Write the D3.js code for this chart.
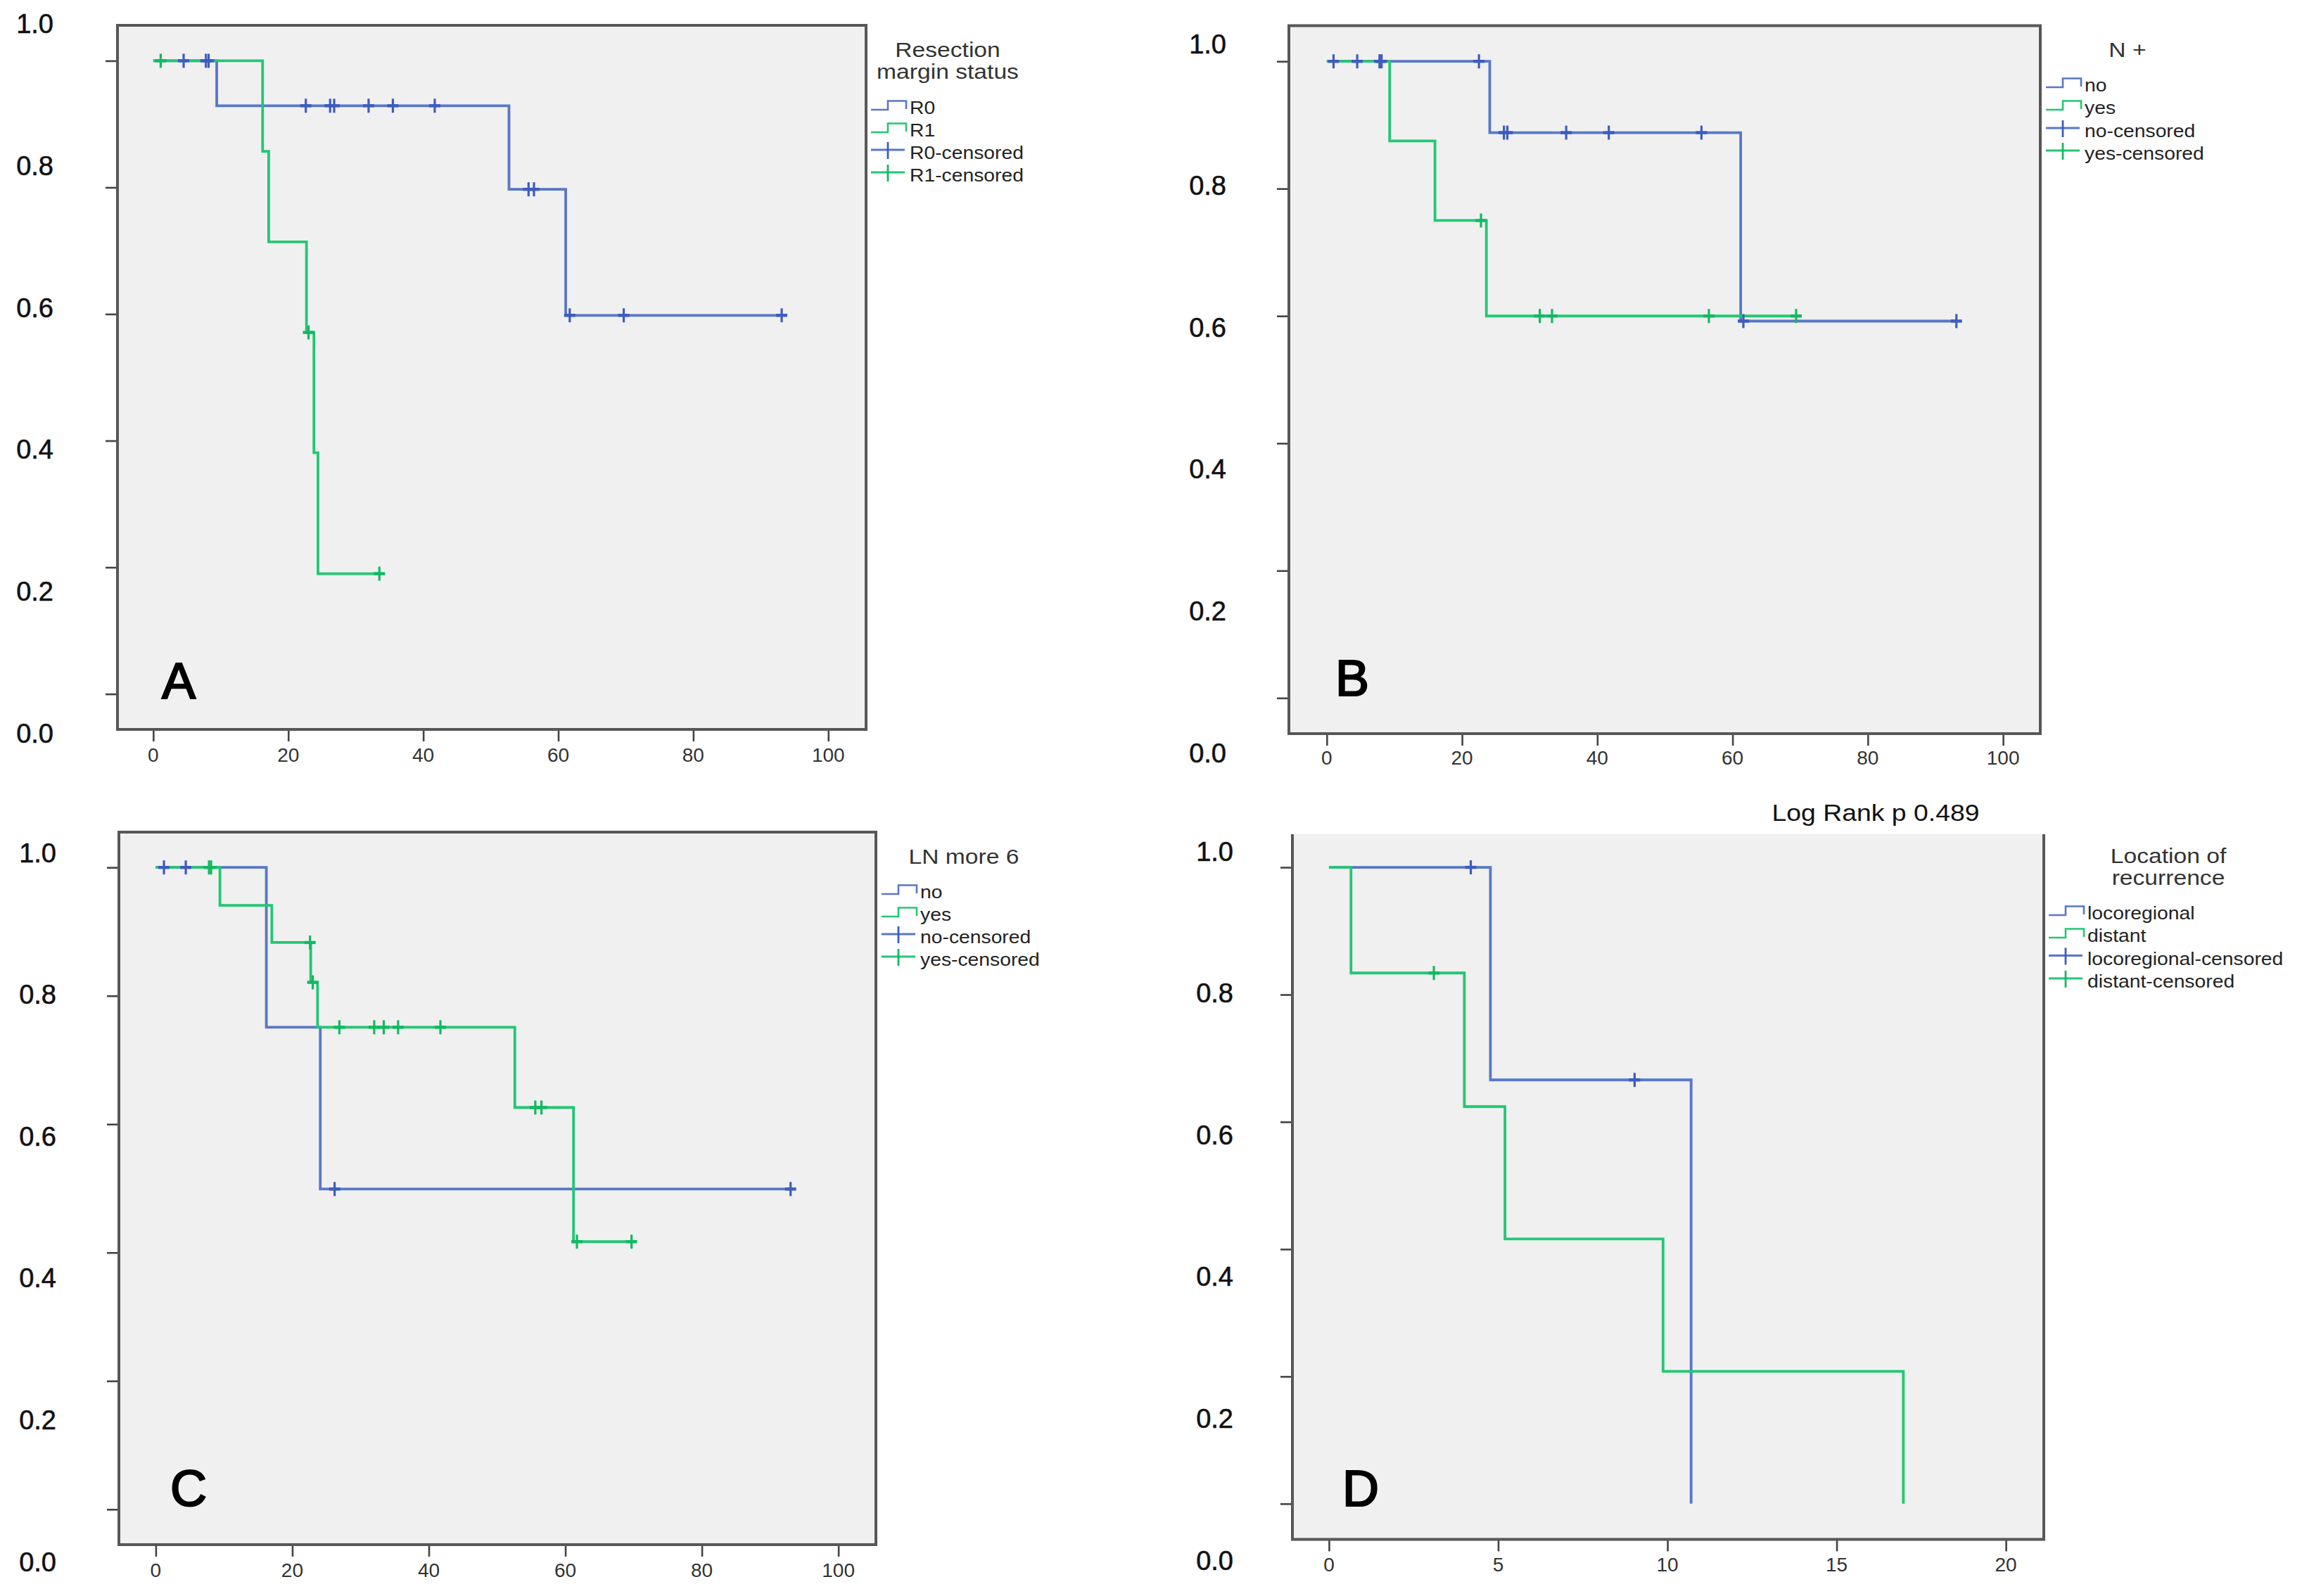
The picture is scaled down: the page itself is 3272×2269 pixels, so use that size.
<!DOCTYPE html>
<html><head><meta charset="utf-8">
<script src="https://cdn.jsdelivr.net/npm/d3@7/dist/d3.min.js"></script>
<style>body{margin:0;background:#fff}</style>
</head><body>
<svg id="c" width="3272" height="2269" xmlns="http://www.w3.org/2000/svg"></svg>
<script>
// ================= DATA =================
const yTickValues = [0, 0.2, 0.4, 0.6, 0.8, 1.0];
const yTickLabels = ["0.0", "0.2", "0.4", "0.6", "0.8", "1.0"];
const xTicksMonths = [0, 20, 40, 60, 80, 100];
const xTicksD = [0, 5, 10, 15, 20];

// Panel A – Resection margin status
const A_R0_t = [0, 9.4, 52.7, 61.1];
const A_R0_s = [1.0, 0.929, 0.797, 0.598];
const A_R0_end = 93.1;
const A_R0_cens = [4.5, 7.8, 8.2, 22.6, 26.2, 26.8, 31.9, 35.5, 41.7, 55.6, 56.4, 61.7, 69.7, 93.1];
const A_R1_t = [0, 16.2, 17.1, 22.7, 23.8, 24.4];
const A_R1_s = [1.0, 0.857, 0.714, 0.571, 0.381, 0.190];
const A_R1_end = 33.5;
const A_R1_cens = [1.1, 23.0, 33.5];

// Panel B – N +
const B_no_t = [0, 24.1, 61.2];
const B_no_s = [1.0, 0.888, 0.592];
const B_no_end = 93.1;
const B_no_cens = [1.0, 4.5, 7.8, 8.1, 22.5, 26.2, 26.7, 35.4, 41.7, 55.4, 61.6, 93.1];
const B_yes_t = [0, 9.3, 16.0, 23.6];
const B_yes_s = [1.0, 0.875, 0.750, 0.600];
const B_yes_end = 69.8;
const B_yes_cens = [22.8, 31.5, 33.3, 56.5, 69.4];

// Panel C – LN more 6
const C_no_t = [0, 16.2, 24.1];
const C_no_s = [1.0, 0.751, 0.499];
const C_no_end = 93.0;
const C_no_cens = [1.2, 4.4, 26.2, 93.0];
const C_yes_t = [0, 9.4, 17.0, 22.7, 23.7, 52.6, 61.2];
const C_yes_s = [1.0, 0.941, 0.883, 0.821, 0.751, 0.626, 0.417];
const C_yes_end = 69.7;
const C_yes_cens = [7.8, 8.1, 22.6, 23.0, 26.9, 32.0, 33.4, 35.5, 41.7, 55.6, 56.5, 61.7, 69.7];

// Panel D – Location of recurrence
const D_loco_t = [0, 4.77, 10.7];
const D_loco_s = [1.0, 0.666, 0.0];
const D_loco_end = 10.7;
const D_loco_cens = [4.19, 9.03];
const D_dist_t = [0, 0.65, 4.0, 5.2, 9.87, 16.97];
const D_dist_s = [1.0, 0.834, 0.624, 0.416, 0.208, 0.0];
const D_dist_end = 16.97;
const D_dist_cens = [3.1];

// Legend labels
const legA = ["R0", "R1", "R0-censored", "R1-censored"];
const legB = ["no", "yes", "no-censored", "yes-censored"];
const legC = ["no", "yes", "no-censored", "yes-censored"];
const legD = ["locoregional", "distant", "locoregional-censored", "distant-censored"];

// ================= STYLE / LAYOUT =================
const BLUE = "#5877c8", BLUE_D = "#3d5cbf";
const GREEN = "#22c773", GREEN_D = "#12b960";
const FONT = "'Liberation Sans', Arial, sans-serif";

const panels = [
  { letter: "A", frame: {l: 167, r: 1231, t: 36, b: 1037}, xd: [-5.3, 105.6], yd: [-0.056, 1.056], xt: xTicksMonths,
    ylab: {x: 76, y1: 33.7, y0: 1042}, xlabY: 1073, letterPos: [230, 993], top: true,
    series: [[A_R0_t, A_R0_s, A_R0_end, A_R0_cens], [A_R1_t, A_R1_s, A_R1_end, A_R1_cens]],
    legend: {cx: 1347, title: [["Resection", 81], ["margin status", 112]], rows: [162, 194, 226, 258], symX: 1238, textX: 1293, labels: legA} },
  { letter: "B", frame: {l: 1832, r: 2900, t: 36.5, b: 1043}, xd: [-5.6, 105.5], yd: [-0.056, 1.056], xt: xTicksMonths,
    ylab: {x: 1743, y1: 62, y0: 1070}, xlabY: 1077, letterPos: [1898, 989], top: true,
    series: [[B_no_t, B_no_s, B_no_end, B_no_cens], [B_yes_t, B_yes_s, B_yes_end, B_yes_cens]],
    legend: {cx: 3024, title: [["N +", 81]], rows: [130, 162, 195, 227], symX: 2908, textX: 2963, labels: legB} },
  { letter: "C", frame: {l: 169, r: 1245, t: 1183, b: 2196}, xd: [-5.4, 105.5], yd: [-0.055, 1.055], xt: xTicksMonths,
    ylab: {x: 80, y1: 1212, y0: 2220}, xlabY: 2232, letterPos: [242, 2141], top: true,
    series: [[C_no_t, C_no_s, C_no_end, C_no_cens], [C_yes_t, C_yes_s, C_yes_end, C_yes_cens]],
    legend: {cx: 1370, title: [["LN more 6", 1228]], rows: [1277, 1309, 1341, 1373], symX: 1253, textX: 1308, labels: legC} },
  { letter: "D", frame: {l: 1837, r: 2905, t: 1186, b: 2188.5}, xd: [-1.08, 21.12], yd: [-0.056, 1.052], xt: xTicksD,
    ylab: {x: 1753, y1: 1210, y0: 2218}, xlabY: 2224, letterPos: [1908, 2141], top: false,
    series: [[D_loco_t, D_loco_s, D_loco_end, D_loco_cens], [D_dist_t, D_dist_s, D_dist_end, D_dist_cens]],
    legend: {cx: 3082, title: [["Location of", 1227], ["recurrence", 1258]], rows: [1307, 1339, 1371.5, 1404], symX: 2912, textX: 2967, labels: legD},
    header: {text: "Log Rank p 0.489", cx: 2666, y: 1167} }
];

const svg = d3.select("#c");
svg.append("rect").attr("width", 3272).attr("height", 2269).attr("fill", "#fff");

function survAt(ts, ss, t) {
  let v = ss[0];
  for (let i = 0; i < ts.length; i++) if (ts[i] <= t) v = ss[i];
  return v;
}

panels.forEach(p => {
  const f = p.frame;
  const g = svg.append("g");
  const x = d3.scaleLinear().domain(p.xd).range([f.l, f.r]);
  const y = d3.scaleLinear().domain(p.yd).range([f.b, f.t]);
  const yl = d3.scaleLinear().domain([0, 1]).range([p.ylab.y0, p.ylab.y1]);

  // plot background
  g.append("rect").attr("x", f.l).attr("y", f.t).attr("width", f.r - f.l).attr("height", f.b - f.t)
    .attr("fill", "#f0f0f0");

  // axes ticks
  const ya = g.append("g").attr("transform", `translate(${f.l},0)`)
    .call(d3.axisLeft(y).tickValues(yTickValues).tickSize(17).tickFormat(""));
  const xa = g.append("g").attr("transform", `translate(0,${f.b})`)
    .call(d3.axisBottom(x).tickValues(p.xt).tickSize(17).tickFormat(""));
  [ya, xa].forEach(a => {
    a.select(".domain").remove();
    a.selectAll(".tick line").attr("stroke", "#444").attr("stroke-width", 2.6);
  });

  // frame
  const fr = g.append("g").attr("fill", "none").attr("stroke", "#575757").attr("stroke-width", 4);
  if (p.top) {
    fr.append("rect").attr("x", f.l).attr("y", f.t).attr("width", f.r - f.l).attr("height", f.b - f.t);
  } else {
    fr.append("path").attr("d", `M${f.l},${f.t}V${f.b}H${f.r}V${f.t}`);
  }

  // y labels
  g.append("g").selectAll("text").data(yTickValues).join("text")
    .attr("x", p.ylab.x).attr("y", d => yl(d)).attr("dy", "0.36em")
    .attr("text-anchor", "end").attr("font-family", FONT).attr("font-size", 38).attr("fill", "#111")
    .attr("stroke", "#111").attr("stroke-width", 0.6)
    .text((d, i) => yTickLabels[i]);

  // x labels
  g.append("g").selectAll("text").data(p.xt).join("text")
    .attr("x", d => x(d)).attr("y", p.xlabY).attr("dy", "0.36em")
    .attr("text-anchor", "middle").attr("font-family", FONT).attr("font-size", 28).attr("fill", "#333")
    .text(d => d);

  // curves
  const line = d3.line().x(d => x(d[0])).y(d => y(d[1])).curve(d3.curveStepAfter);
  const cols = [BLUE, GREEN], colsD = [BLUE_D, GREEN_D];
  p.series.forEach((s, i) => {
    const [ts, ss, end] = s;
    const pts = ts.map((t, k) => [t, ss[k]]);
    if (end > ts[ts.length - 1]) pts.push([end, ss[ss.length - 1]]);
    g.append("path").attr("d", line(pts)).attr("fill", "none")
      .attr("stroke", cols[i]).attr("stroke-width", 3.8);
  });
  p.series.forEach((s, i) => {
    const [ts, ss, end, cens] = s;
    const cg = g.append("g").attr("stroke", colsD[i]);
    cens.forEach(c => {
      const cx = x(c), cy = y(survAt(ts, ss, c));
      cg.append("line").attr("x1", cx).attr("x2", cx).attr("y1", cy - 10).attr("y2", cy + 10).attr("stroke-width", 3.2);
      cg.append("line").attr("x1", cx - 8).attr("x2", cx + 8).attr("y1", cy).attr("y2", cy).attr("stroke-width", 4.4);
    });
  });

  // panel letter
  g.append("text").attr("x", p.letterPos[0]).attr("y", p.letterPos[1])
    .attr("font-family", FONT).attr("font-size", 72).attr("fill", "#000")
    .attr("stroke", "#000").attr("stroke-width", 2.2).text(p.letter);

  // header
  if (p.header) {
    g.append("text").attr("transform", `translate(${p.header.cx},${p.header.y}) scale(1.15,1)`)
      .attr("text-anchor", "middle").attr("font-family", FONT).attr("font-size", 32.5).attr("fill", "#111")
      .text(p.header.text);
  }

  // legend
  const L = p.legend;
  L.title.forEach(([t, by]) => {
    g.append("text").attr("transform", `translate(${L.cx},${by}) scale(1.14,1)`)
      .attr("text-anchor", "middle").attr("font-family", FONT).attr("font-size", 29.5).attr("fill", "#333").text(t);
  });
  L.labels.forEach((lab, i) => {
    const b = L.rows[i], x0 = L.symX;
    const col = i % 2 === 0 ? BLUE : GREEN;
    if (i < 2) {
      g.append("path").attr("d", `M${x0},${b - 6}H${x0 + 24}V${b - 18.5}H${x0 + 50}V${b - 7}`)
        .attr("fill", "none").attr("stroke", col).attr("stroke-width", 2.6);
    } else {
      g.append("line").attr("x1", x0).attr("x2", x0 + 48).attr("y1", b - 13).attr("y2", b - 13)
        .attr("stroke", col).attr("stroke-width", 2.8);
      g.append("line").attr("x1", x0 + 24).attr("x2", x0 + 24).attr("y1", b - 24).attr("y2", b)
        .attr("stroke", i === 2 ? BLUE_D : GREEN_D).attr("stroke-width", 2.8);
    }
    g.append("text").attr("transform", `translate(${L.textX},${b}) scale(1.11,1)`)
      .attr("font-family", FONT).attr("font-size", 25.5).attr("fill", "#222").text(lab);
  });
});
</script>
</body></html>
